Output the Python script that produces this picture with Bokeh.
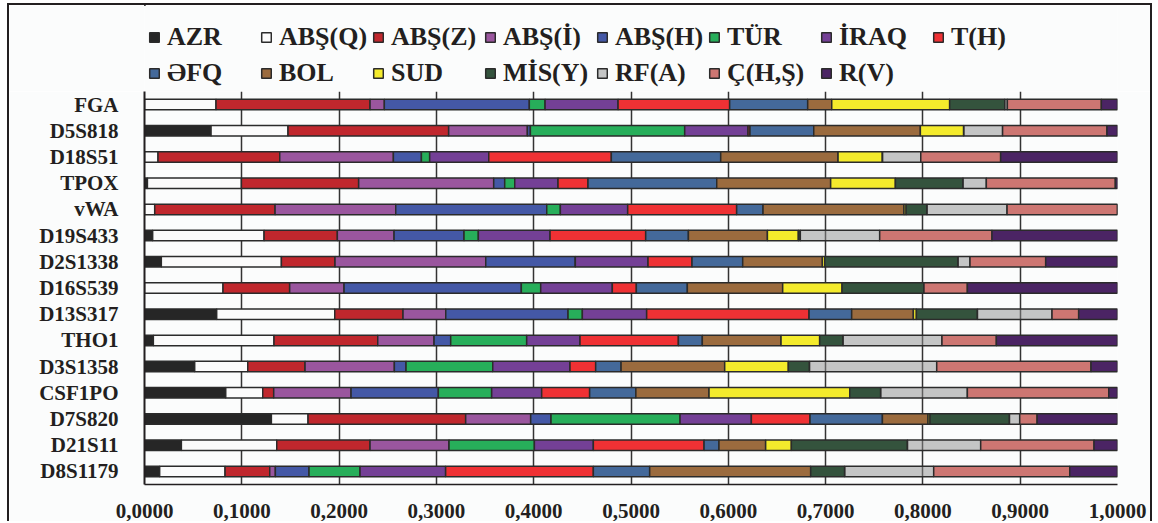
from bokeh.plotting import figure
from bokeh.layouts import column
from bokeh.models import (FactorRange, Range1d, FixedTicker, CustomJSTickFormatter,
                          Legend, LegendItem, ColumnDataSource)
from bokeh.embed import file_html
from bokeh.resources import INLINE

loci = ["FGA", "D5S818", "D18S51", "TPOX", "vWA", "D19S433", "D2S1338", "D16S539",
        "D13S317", "THO1", "D3S1358", "CSF1PO", "D7S820", "D21S11", "D8S1179"]

series = ["AZR", "ABŞ(Q)", "ABŞ(Z)", "ABŞ(İ)", "ABŞ(H)", "TÜR", "İRAQ", "T(H)",
          "ƏFQ", "BOL", "SUD", "MİS(Y)", "RF(A)", "Ç(H,Ş)", "R(V)"]

AZR = [0, .0684, 0, .003, 0, .0084, .0173, 0, .0742, .0091, .0516, .0835, .1304, .0379, .0156]
ABS_Q = [.0735, .0791, .0139, .0966, .0105, .1145, .1234, .0807, .1213, .124, .0545, .038, .0377, .098, .0672]
ABS_Z = [.1583, .1651, .1251, .1205, .1237, .0753, .0551, .0685, .0702, .1066, .0589, .0113, .162, .0959, .0459]
ABS_I = [.0147, .0809, .1168, .1388, .124, .0583, .1549, .0559, .0439, .0579, .0918, .0795, .0668, .0812, .0058]
ABS_H = [.149, .0031, .0288, .0113, .1552, .0719, .0921, .1822, .1257, .0171, .012, .0897, .0209, 0, .0346]
TUR = [.0162, .1586, .0085, .0103, .014, .0147, 0, .0199, .0147, .0781, .0891, .0548, .1326, .0877, .0524]
IRAQ = [.075, .0651, .0607, .0445, .0692, .0737, .0747, .0736, .0661, .0548, .0794, .0514, .0733, .0606, .088]
T_H = [.1147, .002, .126, .0308, .112, .0983, .0452, .0247, .1669, .1011, .0264, .0493, .0603, .1138, .1518]
EFQ = [.0802, .0655, .1124, .1323, .0271, .0439, .0521, .0524, .0438, .0246, .0261, .0475, .0744, .0153, .0579]
BOL = [.0247, .1096, .1206, .1171, .1449, .0812, .0819, .098, .0634, .0809, .1065, .0752, .0469, .048, .1655]
SUD = [.1212, .0445, .0456, .0665, .0021, .0318, .0024, .061, .0031, .0397, .0654, .1446, .002, .0264, 0]
MIS_Y = [.0566, 0, 0, .0695, .0215, .002, .137, .0842, .0627, .024, .0217, .0318, .0816, .1193, .0349]
RF_A = [.0027, .04, .0394, .024, .0823, .0816, .0123, 0, .0767, .1017, .1308, .0891, .0106, .0753, .0915]
C_HS = [.0966, .1073, .0821, .1326, .1135, .1154, .0778, .0446, .0274, .0559, .1586, .1453, .0179, .1165, .1398]
R_V = [.0166, .0108, .1201, .0022, 0, .129, .0738, .1543, .0399, .1245, .0272, .009, .0826, .0241, .0491]

colors = ["#262626", "#fbfbfb", "#c0272d", "#9a569e", "#4458a6", "#27ae5a", "#744096", "#ef3134",
          "#44699a", "#9b6b3e", "#f4eb2c", "#34533d", "#8d8d8d", "#cd7672", "#4b2464"]
alphas = [1] * 12 + [0.5] + [1, 1]

x_ticks = [0, 0.1, 0.2, 0.3, 0.4, 0.5, 0.6, 0.7, 0.8, 0.9, 1]

values = [AZR, ABS_Q, ABS_Z, ABS_I, ABS_H, TUR, IRAQ, T_H, EFQ, BOL, SUD, MIS_Y, RF_A, C_HS, R_V]
data = {"locus": loci}
for name, vals in zip(series, values):
    data[name] = vals
source = ColumnDataSource(data)

INK = "#231f20"
BG = "#fbfcfc"
W = 1141

# ---- main chart
p = figure(width=W, height=430, output_backend="svg", toolbar_location=None,
           x_range=Range1d(0, 1), y_range=FactorRange(factors=list(reversed(loci))),
           min_border_left=135, min_border_right=33, min_border_top=0, min_border_bottom=37,
           background_fill_color=BG, border_fill_color=BG, outline_line_color=None)

renderers = p.hbar_stack(series, y="locus", height=0.4, source=source,
                         fill_color=colors, fill_alpha=alphas,
                         line_color="#2b2b2b", line_width=1.5)

p.xaxis.ticker = FixedTicker(ticks=x_ticks)
p.xaxis.formatter = CustomJSTickFormatter(code="return tick.toFixed(4).replace('.', ',');")
p.xaxis.major_label_text_font = "Liberation Serif"
p.xaxis.major_label_text_font_style = "bold"
p.xaxis.major_label_text_font_size = "21px"
p.xaxis.major_label_text_color = INK
p.xaxis.major_label_standoff = 13
p.xaxis.major_tick_line_color = None
p.xaxis.minor_tick_line_color = None
p.xaxis.axis_line_color = INK
p.xaxis.axis_line_width = 1.5

p.yaxis.major_label_text_font = "Liberation Serif"
p.yaxis.major_label_text_font_style = "bold"
p.yaxis.major_label_text_font_size = "21px"
p.yaxis.major_label_text_color = INK
p.yaxis.major_label_standoff = 20
p.yaxis.major_tick_line_color = None
p.yaxis.axis_line_color = INK
p.yaxis.axis_line_width = 2

p.xgrid.ticker = FixedTicker(ticks=x_ticks)
p.xgrid.grid_line_color = "#333333"
p.xgrid.grid_line_width = 1.5
p.ygrid.grid_line_color = None

# ---- legend strip (same colours, legend only; its frame is aligned with the chart's)
pl = figure(width=W, height=86, output_backend="svg", toolbar_location=None,
            x_range=Range1d(0, 1), y_range=Range1d(0, 1),
            x_axis_location=None, y_axis_location=None, min_border=0,
            background_fill_color=BG, border_fill_color=BG, outline_line_color=None)
pl.grid.visible = False
leg_src = ColumnDataSource(dict(y=[5], right=[0]))
items = []
for s, c, a in zip(series, colors, alphas):
    r = pl.hbar(y="y", right="right", height=0.4, source=leg_src, fill_color=c,
                fill_alpha=a, line_color="#2b2b2b", line_width=1.5)
    items.append(LegendItem(label=s, renderers=[r]))

legend = Legend(items=items, orientation="horizontal", ncols=8, location=(4, 0),
                label_text_font="Liberation Serif", label_text_font_style="bold",
                label_text_font_size="26px", label_text_color=INK,
                glyph_width=12, glyph_height=12, label_standoff=7, label_width=93,
                label_height=36, spacing=0, padding=0, margin=0,
                background_fill_alpha=0, border_line_color=None)
pl.add_layout(legend, "center")

layout = column(pl, p, spacing=0)
layout.styles = {"border-left": "2px solid #231f20", "border-right": "2px solid #231f20",
                 "border-top": "2px solid #231f20", "margin-left": "7px", "margin-top": "3px"}

open("out.html", "w").write(file_html(layout, INLINE))
